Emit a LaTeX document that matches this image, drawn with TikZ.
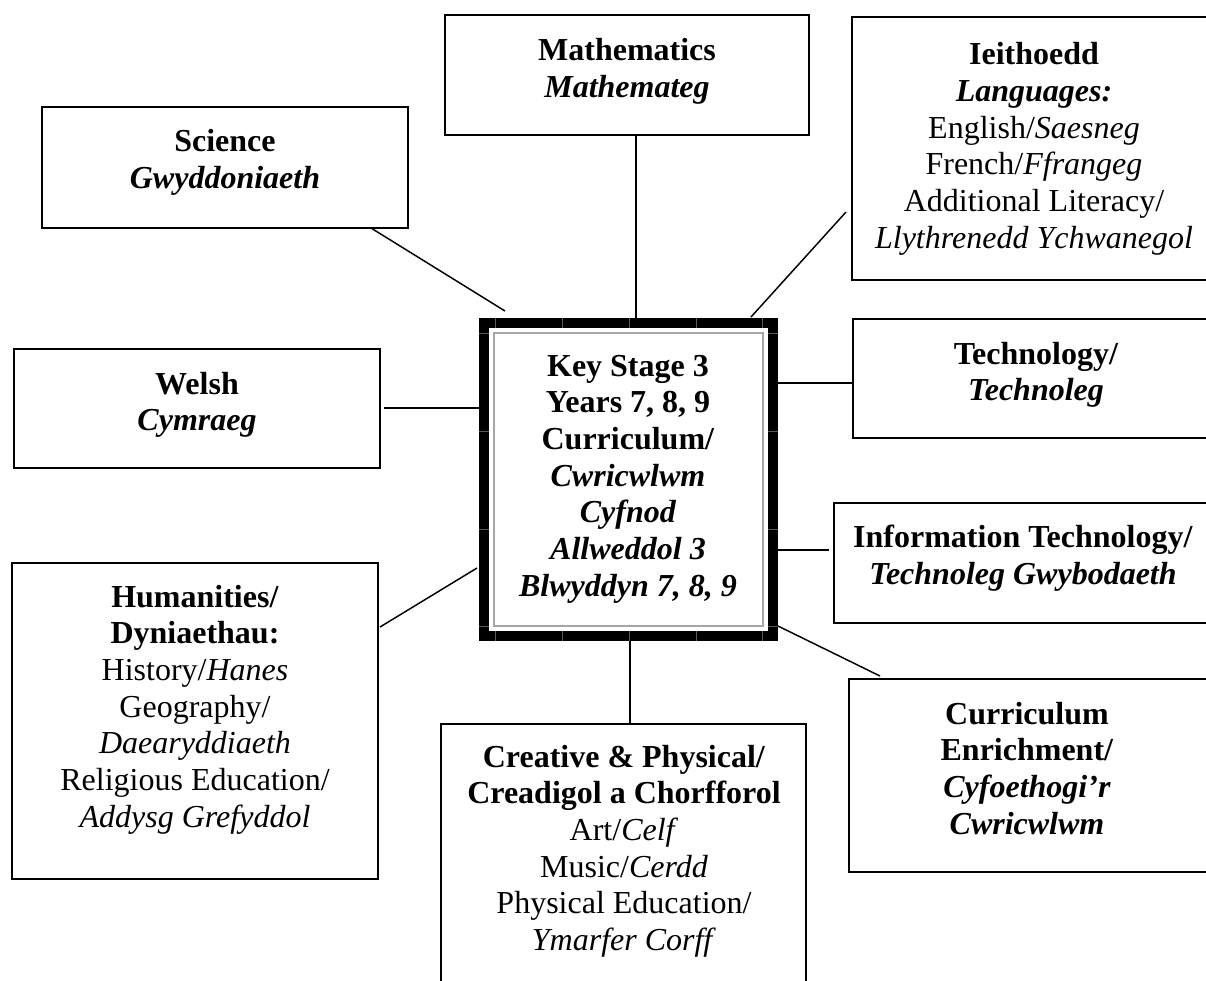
\documentclass[tikz,border=0pt]{standalone}
\usepackage{fontspec}
\setmainfont{Liberation Serif}
\usetikzlibrary{fit}
\tikzset{
  box/.style={draw, line width=1.1pt, inner sep=0pt, fill=white},
  txt/.style={inner sep=0pt, anchor=north, align=center,
    font=\fontsize{12}{13.76}\selectfont, execute at begin node=\strut},
  conn/.style={line width=0.55pt},
  seam/.style={draw=black!65, line width=0.25pt}
}
\begin{document}
\begin{tikzpicture}[x=0.375pt,y=-0.375pt]
\useasboundingbox (0,0) rectangle (1206,980);
\clip (0,0) rectangle (1206,980);

% outer boxes
\node[box, fit={(42,107) (408,228)}] (sciB) {};
\node[box, fit={(445,15) (809,135)}] (matB) {};
\node[box, fit={(852,17) (1240,280)}] (ieiB) {};
\node[box, fit={(14,349) (380,468)}] (welB) {};
\node[box, fit={(853,319) (1240,438)}] (tecB) {};
\node[box, fit={(834,503) (1240,623)}] (itB) {};
\node[box, fit={(12,563) (378,879)}] (humB) {};
\node[box, fit={(441,724) (806,1010)}] (creB) {};
\node[box, fit={(849,679) (1240,872)}] (ceB) {};

% central box
\node[draw, line width=3.75pt, inner sep=0pt, fit={(484,323) (773,636)}] (cenB) {};
\node[draw=gray!70, line width=0.5pt, inner sep=0pt, fit={(494,333) (763,626)}] (cenI) {};
\foreach \sx in {495,562,629,696,762}{
  \draw[seam] (\sx,318) -- (\sx,328);
  \draw[seam] (\sx,631) -- (\sx,641);
}
\foreach \sy in {333,431,529,626}{
  \draw[seam] (479,\sy) -- (489,\sy);
  \draw[seam] (768,\sy) -- (778,\sy);
}

% texts
\node[txt] (sciT) at (225,129) {\textbf{Science}\\\textbf{\textit{Gwyddoniaeth}}};
\node[txt] (matT) at (627,38) {\textbf{Mathematics}\\\textbf{\textit{Mathemateg}}};
\node[txt] (ieiT) at (1034,42) {\textbf{Ieithoedd}\\\textbf{\textit{Languages:}}\\English/\textit{Saesneg}\\French/\textit{Ffrangeg}\\Additional Literacy/\\\textit{Llythrenedd Ychwanegol}};
\node[txt] (welT) at (197,371.3) {\textbf{Welsh}\\\textbf{\textit{Cymraeg}}};
\node[txt] (tecT) at (1036,341.3) {\textbf{Technology/}\\\textbf{\textit{Technoleg}}};
\node[txt] (itT) at (1023,524.3) {\textbf{Information Technology/}\\\textbf{\textit{Technoleg Gwybodaeth}}};
\node[txt] (humT) at (195,584.3) {\textbf{Humanities/}\\\textbf{Dyniaethau:}\\History/\textit{Hanes}\\Geography/\\\textit{Daearyddiaeth}\\Religious Education/\\\textit{Addysg Grefyddol}};
\node[txt] (creT) at (624,744.3) {\textbf{Creative \& Physical/}\\\textbf{Creadigol a Chorfforol}\\Art/\textit{Celf}\\Music/\textit{Cerdd}\\Physical Education/\\\textit{Ymarfer Corff}};
\node[txt] (ceT) at (1027,701.3) {\textbf{Curriculum}\\\textbf{Enrichment/}\\\textbf{\textit{Cyfoethogi’r}}\\\textbf{\textit{Cwricwlwm}}};
\node[txt] (cenT) at (628,354.3) {\textbf{Key Stage 3}\\\textbf{Years 7, 8, 9}\\\textbf{Curriculum/}\\\textbf{\textit{Cwricwlwm}}\\\textbf{\textit{Cyfnod}}\\\textbf{\textit{Allweddol 3}}\\\textbf{\textit{Blwyddyn 7, 8, 9}}};

% connector end points
\coordinate (sciA) at (371,228);  \coordinate (sciC) at (505,311);
\coordinate (matA) at (636,135);  \coordinate (matC) at (636,318);
\coordinate (ieiA) at (846,212);  \coordinate (ieiC) at (751,317);
\coordinate (welA) at (384,408);  \coordinate (welC) at (479,408);
\coordinate (tecA) at (853,383);  \coordinate (tecC) at (778,383);
\coordinate (itA)  at (829,550);  \coordinate (itC)  at (778,550);
\coordinate (humA) at (380,627);  \coordinate (humC) at (477,568);
\coordinate (creA) at (630,724);  \coordinate (creC) at (630,641);
\coordinate (ceA)  at (880,676);  \coordinate (ceC)  at (778,626);

\foreach \n in {sci,mat,iei,wel,tec,it,hum,cre,ce}{
  \draw[conn] (\n A) -- (\n C);
}
\end{tikzpicture}
\end{document}
